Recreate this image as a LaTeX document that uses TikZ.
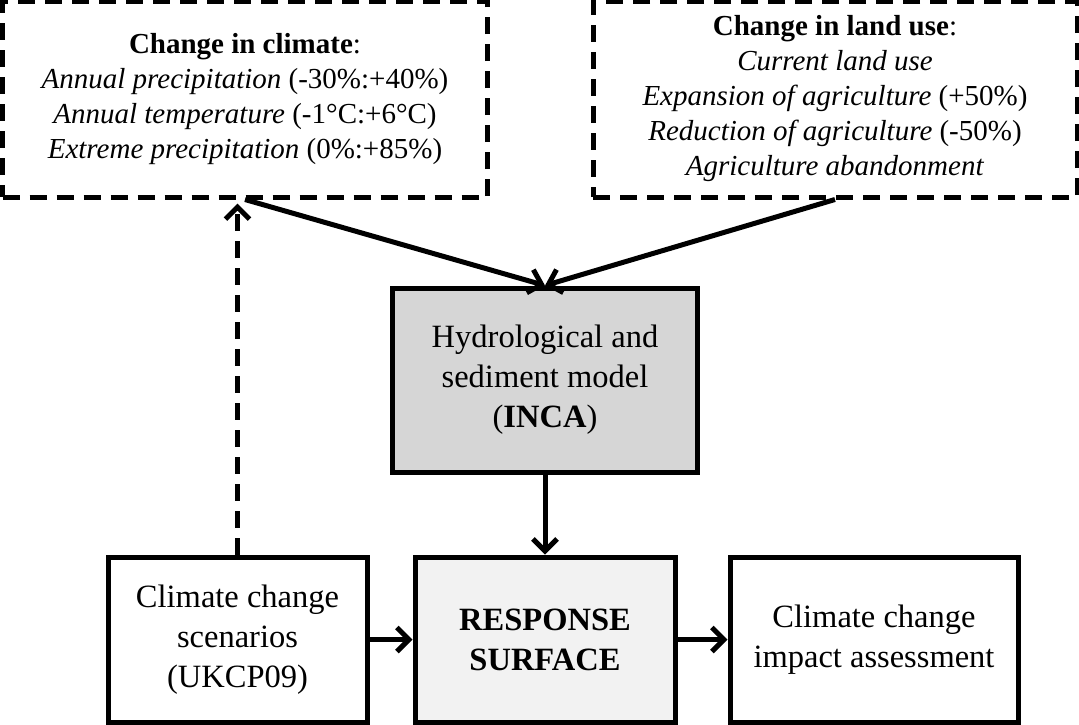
\documentclass[tikz,border=0pt]{standalone}
\usepackage{fontspec}
\setmainfont{Liberation Serif}
\usetikzlibrary{arrows.meta,positioning}
\begin{document}
\begin{tikzpicture}[x=1pt, y=-1pt, line width=5pt,
font=\fontsize{32.5}{40}\selectfont,
box/.style={draw, align=center, minimum height=165pt, inner sep=0pt},
dashbox/.style={draw, dash pattern=on 17pt off 10pt, align=center, minimum height=196pt, inner sep=0pt, font=\fontsize{29}{35}\selectfont},
link/.style={-{Straight Barb[length=12pt,width=24pt]}}]

\useasboundingbox (0,0) rectangle (1079,724);

\node[box, fill=gray!10, minimum width=260pt] at (545,639.5) (surface) {\textbf{RESPONSE}\\\textbf{SURFACE}};
\node[box, minimum width=259pt, left=43pt of surface] (scenarios) {Climate change\\scenarios\\(UKCP09)};
\node[box, minimum width=288pt, right=50pt of surface] (impact) {Climate change\\impact assessment};
\node[box, fill=gray!32, minimum width=305pt, minimum height=184pt, above=80pt of surface] (inca) {Hydrological and\\sediment model\\(\textbf{INCA})};

\node[dashbox, minimum width=485pt] at (245,99) (climate) {\textbf{Change in climate}:\\
\textit{Annual precipitation} (-30\%:+40\%)\\
\textit{Annual temperature} (-1°C:+6°C)\\
\textit{Extreme precipitation} (0\%:+85\%)};
\node[dashbox, minimum width=484pt] at (835,99) (landuse) {\textbf{Change in land use}:\\
\textit{Current land use}\\
\textit{Expansion of agriculture} (+50\%)\\
\textit{Reduction of agriculture} (-50\%)\\
\textit{Agriculture abandonment}};

\draw[link] (climate.south) -- (inca.north);
\draw[link] (landuse.south) -- (inca.north);
\draw[link] (inca) -- (surface);
\draw[link] (scenarios) -- (surface);
\draw[link] (surface) -- (impact);
\draw[link, dash pattern=on 17pt off 10pt, shorten >=4pt] (scenarios) -- (scenarios |- climate.south);
%
\end{tikzpicture}
\end{document}
